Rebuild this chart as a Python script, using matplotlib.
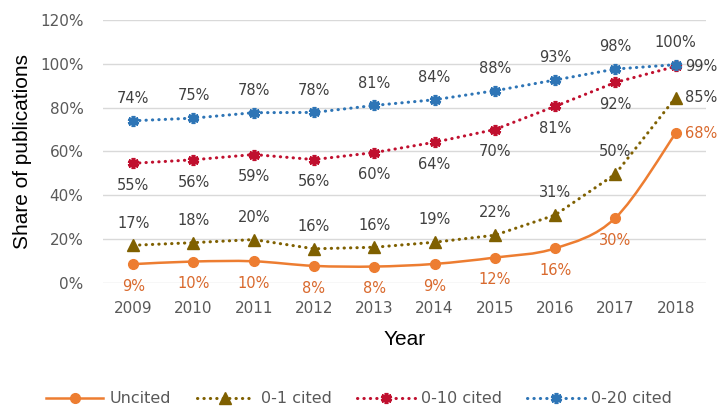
import numpy as np
import matplotlib.pyplot as plt
from matplotlib.path import Path
from matplotlib.patches import PathPatch
from matplotlib.lines import Line2D

years = [2009, 2010, 2011, 2012, 2013, 2014, 2015, 2016, 2017, 2018]
uncited = [8.6, 9.8, 9.9, 7.8, 7.5, 8.7, 11.6, 15.8, 29.7, 68.3]
cited_0_1 = [17.2, 18.4, 19.8, 15.6, 16.3, 18.6, 21.8, 31.0, 49.7, 84.6]
cited_0_10 = [54.6, 56.2, 58.6, 56.3, 59.5, 64.2, 70.0, 80.6, 91.5, 98.8]
cited_0_20 = [74.0, 75.2, 77.7, 77.8, 81.0, 83.6, 87.7, 92.6, 97.6, 99.6]

# label placement per point: 'a' above, 'b' below, 'r' right
pos_uncited = ['b'] * 9 + ['r']
pos_0_1 = ['a'] * 9 + ['r']
pos_0_10 = ['b'] * 9 + ['r']
pos_0_20 = ['a'] * 10

c_unc = '#ED7D31'
c_01 = '#7F6000'
c_010 = '#C0102F'
c_020 = '#2E75B6'
lab_grey = '#404040'
lab_orange = '#D9692D'

fig = plt.figure(figsize=(7.18, 4.07), dpi=100)
ax = fig.add_axes([0.1435, 0.3047, 0.8395, 0.6463])

x = np.array(years, dtype=float)


def smooth_path(xs, ys, t=1/6):
    # Catmull-Rom style bezier through the points (like Excel smoothed line)
    pts = np.column_stack([xs, ys])
    verts = [pts[0]]
    codes = [Path.MOVETO]
    n = len(pts)
    for i in range(n - 1):
        p0 = pts[max(i - 1, 0)]
        p1 = pts[i]
        p2 = pts[i + 1]
        p3 = pts[min(i + 2, n - 1)]
        c1 = p1 + (p2 - p0) * t
        c2 = p2 - (p3 - p1) * t
        verts += [c1, c2, p2]
        codes += [Path.CURVE4] * 3
    return Path(verts, codes)


dot = dict(linestyle=(0, (0.1, 2.0)), dash_capstyle='round', lw=2.2)
star = dict(marker=(6, 2, 0), ms=8, mew=2.6)

ax.add_patch(PathPatch(smooth_path(x, np.array(uncited)), fill=False,
                       edgecolor=c_unc, lw=1.8, zorder=3))
ax.plot(x, uncited, 'o', color=c_unc, ms=7, zorder=4)
ax.plot(x, cited_0_1, color=c_01, marker='^', ms=8, zorder=3, **dot)
ax.plot(x, cited_0_10, color=c_010, zorder=3, **star, **dot)
ax.plot(x, cited_0_20, color=c_020, zorder=3, **star, **dot)


def labels(vals, places, color):
    for xi, v, p in zip(x, vals, places):
        txt = '%d%%' % round(v)
        if p == 'a':
            ax.annotate(txt, (xi, v), xytext=(0, 16), textcoords='offset points',
                        ha='center', va='center', fontsize=10.5, color=color)
        elif p == 'b':
            ax.annotate(txt, (xi, v), xytext=(0, -16), textcoords='offset points',
                        ha='center', va='center', fontsize=10.5, color=color)
        else:
            ax.annotate(txt, (xi, v), xytext=(7, 0), textcoords='offset points',
                        ha='left', va='center', fontsize=10.5, color=color)


labels(uncited, pos_uncited, lab_orange)
labels(cited_0_1, pos_0_1, lab_grey)
labels(cited_0_10, pos_0_10, lab_grey)
labels(cited_0_20, pos_0_20, lab_grey)

ax.set_xlim(2008.5, 2018.5)
ax.set_ylim(0, 120)
ax.set_xticks(years)
ax.set_xticklabels([str(y) for y in years])
ax.set_yticks(range(0, 121, 20))
ax.set_yticklabels(['%d%%' % v for v in range(0, 121, 20)])
ax.tick_params(length=0, labelsize=11, labelcolor='#595959')
ax.tick_params(axis='x', pad=13)
ax.tick_params(axis='y', pad=14)
ax.grid(axis='y', color='#D9D9D9', lw=1)
ax.set_axisbelow(True)
for s in ax.spines.values():
    s.set_visible(False)

ax.set_xlabel('Year', fontsize=15, family='Liberation Sans', labelpad=10)
ax.set_ylabel('Share of publications', fontsize=15, family='Liberation Sans',
              labelpad=6)

handles = [
    Line2D([], [], color=c_unc, lw=1.8, marker='o', ms=7),
    Line2D([], [], color=c_01, marker='^', ms=8, **dot),
    Line2D([], [], color=c_010, **star, **dot),
    Line2D([], [], color=c_020, **star, **dot),
]
fig.legend(handles, ['Uncited', '0-1 cited', '0-10 cited', '0-20 cited'],
           loc='center', bbox_to_anchor=(0.5, 0.02), ncol=4, frameon=False,
           fontsize=11.5, handlelength=3.6, handletextpad=0.4, columnspacing=1.6,
           labelcolor='#595959')

fig.savefig('out.png', dpi=100)
